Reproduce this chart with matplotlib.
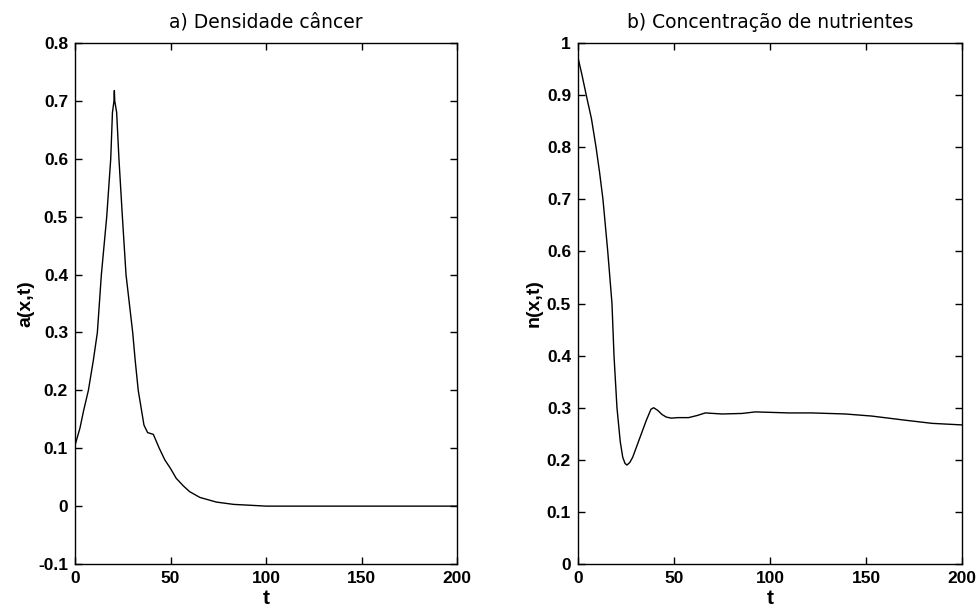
import matplotlib
matplotlib.use("Agg")
import matplotlib.pyplot as plt
from matplotlib.ticker import FormatStrFormatter

# a) cancer density
t_a = [0, 2.6, 4.5, 7, 9.6, 11.7, 13.8, 16.6, 18.7, 19.6, 20.4, 20.6, 20.8, 21.8, 23, 24.8,
       26.7, 30.2, 31.5, 33.1, 36.1, 38, 41, 44.1, 47, 50, 53, 56.7, 60, 65.4, 74, 83, 94.5,
       100, 150, 200]
a_vals = [0.105, 0.135, 0.165, 0.2, 0.252, 0.3, 0.4, 0.5, 0.6, 0.68, 0.7, 0.718, 0.7, 0.68,
          0.6, 0.5, 0.4, 0.3, 0.252, 0.2, 0.14, 0.127, 0.124, 0.1, 0.08, 0.065, 0.048, 0.035,
          0.025, 0.015, 0.007, 0.003, 0.001, 0, 0, 0]

# b) nutrient concentration
t_n = [0, 2, 4.3, 7, 9.4, 11.3, 13.0, 15.5, 17.7, 18.75, 20.3, 22, 23.3, 24.5, 25.5, 27,
       28.5, 30.5, 33, 35.5, 38, 39.4, 41.5, 43.75, 46, 48.6, 52, 57.6, 62, 66.3, 75, 85.4,
       92.4, 109.7, 121.9, 139.2, 153, 170.5, 184.4, 200]
n_vals = [0.972, 0.94, 0.9, 0.855, 0.8, 0.75, 0.7, 0.6, 0.5, 0.4, 0.3, 0.235, 0.205, 0.193,
          0.19, 0.195, 0.205, 0.225, 0.25, 0.275, 0.297, 0.3, 0.295, 0.287, 0.282, 0.28,
          0.281, 0.281, 0.285, 0.29, 0.288, 0.289, 0.292, 0.29, 0.29, 0.288, 0.284, 0.276,
          0.27, 0.267]

x_ticks = [0, 50, 100, 150, 200]
a_ticks = [-0.1, 0, 0.1, 0.2, 0.3, 0.4, 0.5, 0.6, 0.7, 0.8]
n_ticks = [0, 0.1, 0.2, 0.3, 0.4, 0.5, 0.6, 0.7, 0.8, 0.9, 1]

plt.rcParams['font.family'] = ['Liberation Sans', 'DejaVu Sans']

fig = plt.figure(figsize=(9.78, 6.10), dpi=100)
ax1 = fig.add_axes([0.0767, 0.0754, 0.3906, 0.854])
ax2 = fig.add_axes([0.591, 0.0754, 0.3926, 0.854])


def style(ax, yticks, ylim, title, ylabel):
    ax.set_xlim(0, 200)
    ax.set_ylim(*ylim)
    ax.set_xticks(x_ticks)
    ax.set_yticks(yticks)
    ax.yaxis.set_major_formatter(FormatStrFormatter('%g'))
    ax.tick_params(direction='in', length=5, width=1, top=True, right=True,
                   labelsize=12.5, pad=5)
    for lbl in ax.get_xticklabels() + ax.get_yticklabels():
        lbl.set_fontweight('bold')
    for sp in ax.spines.values():
        sp.set_linewidth(1)
    ax.set_title(title, fontsize=13.5, pad=11, family=['DejaVu Sans'])
    ax.set_xlabel('t', fontsize=15, fontweight='bold', labelpad=2)
    ax.set_ylabel(ylabel, fontsize=14, fontweight='bold', labelpad=3)


ax1.plot(t_a, a_vals, color='black', linewidth=1)
style(ax1, a_ticks, (-0.1, 0.8), 'a) Densidade câncer', 'a(x,t)')

ax2.plot(t_n, n_vals, color='black', linewidth=1)
style(ax2, n_ticks, (0, 1), 'b) Concentração de nutrientes', 'n(x,t)')

fig.savefig('out.png', dpi=100)
